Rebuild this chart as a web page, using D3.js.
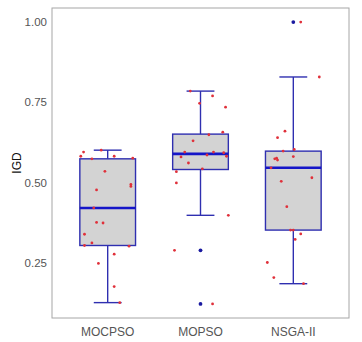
<!DOCTYPE html>
<html><head><meta charset="utf-8">
<script src="https://cdn.jsdelivr.net/npm/d3@7"></script>
<style>body{margin:0;background:#fff;font-family:"Liberation Sans",Arial,sans-serif;}</style>
</head><body><svg id="c" width="362" height="342"></svg>
<script>
const categories = ["MOCPSO", "MOPSO", "NSGA-II"];
const mocpso = [0.595,0.582,0.601,0.574,0.582,0.576,0.535,0.494,0.488,0.477,0.421,0.376,0.374,0.339,0.304,0.312,0.302,0.277,0.248,0.176,0.126];
const mocpsoJitter = [-0.26,-0.29,-0.07,-0.17,0.07,0.27,-0.03,0.25,0.25,-0.12,-0.15,-0.12,-0.05,-0.25,-0.25,-0.17,0.23,0.07,-0.10,0.07,0.13];
const mopso = [0.785,0.770,0.747,0.735,0.657,0.649,0.630,0.595,0.580,0.586,0.595,0.593,0.582,0.561,0.543,0.534,0.499,0.398,0.289,0.122];
const mopsoJitter = [-0.11,0.13,-0.01,0.27,0.24,0.09,-0.08,-0.17,-0.21,0.07,0.14,0.25,0.28,-0.13,0.02,-0.26,-0.26,0.30,-0.28,0.13];
const nsga = [1.0,0.829,0.660,0.640,0.598,0.603,0.581,0.574,0.576,0.570,0.546,0.515,0.504,0.425,0.352,0.352,0.340,0.323,0.251,0.204,0.185];
const nsgaJitter = [0.08,0.28,-0.09,-0.17,-0.11,0.01,0.00,-0.20,-0.18,-0.17,-0.24,0.20,-0.13,-0.07,-0.03,0.00,0.08,0.02,-0.28,-0.21,0.11];
const yTicks = [0.25, 0.50, 0.75, 1.00];
const yLabel = "IGD";

const groups = [mocpso, mopso, nsga];
const jitters = [mocpsoJitter, mopsoJitter, nsgaJitter];

const L = 52, R = 349, T = 8, B = 318;
const svg = d3.select("#c");

const all = groups.flat();
const lo = d3.min(all), hi = d3.max(all), pad = (hi - lo) * 0.05;
const y = d3.scaleLinear().domain([lo - pad, hi + pad]).range([B, T]);
const xi = d3.scaleLinear().domain([0.4, 3.6]).range([L, R]);
const unit = xi(1) - xi(0);

svg.append("g").selectAll("text").data(yTicks).join("text")
  .attr("x", L - 5).attr("y", d => y(d)).attr("dy", "0.35em")
  .attr("text-anchor", "end").attr("font-size", 11.5).attr("fill", "#555")
  .text(d => d3.format(".2f")(d));

svg.append("g").selectAll("text").data(categories).join("text")
  .attr("x", (d, i) => xi(i + 1)).attr("y", B + 14).attr("dy", "0.35em")
  .attr("text-anchor", "middle").attr("font-size", 12).attr("fill", "#555")
  .text(d => d);

svg.append("text").attr("transform", `translate(20.5,${(T + B) / 2}) rotate(-90)`)
  .attr("text-anchor", "middle").attr("font-size", 12).attr("fill", "#111").text(yLabel);

const boxColor = "#2f2fb0";
groups.forEach((vals, i) => {
  const s = vals.slice().sort(d3.ascending);
  const q1 = d3.quantile(s, 0.25), med = d3.quantile(s, 0.5), q3 = d3.quantile(s, 0.75);
  const iqr = q3 - q1;
  const wLo = d3.min(s.filter(v => v >= q1 - 1.5 * iqr));
  const wHi = d3.max(s.filter(v => v <= q3 + 1.5 * iqr));
  const outs = s.filter(v => v < wLo || v > wHi);
  const cx = xi(i + 1), bw = 0.6 * unit, cw = 0.3 * unit;
  const g = svg.append("g");
  g.append("line").attr("x1", cx).attr("x2", cx).attr("y1", y(q3)).attr("y2", y(wHi)).attr("stroke", boxColor).attr("stroke-width", 1.4);
  g.append("line").attr("x1", cx).attr("x2", cx).attr("y1", y(q1)).attr("y2", y(wLo)).attr("stroke", boxColor).attr("stroke-width", 1.4);
  g.append("line").attr("x1", cx - cw / 2).attr("x2", cx + cw / 2).attr("y1", y(wHi)).attr("y2", y(wHi)).attr("stroke", boxColor).attr("stroke-width", 1.4);
  g.append("line").attr("x1", cx - cw / 2).attr("x2", cx + cw / 2).attr("y1", y(wLo)).attr("y2", y(wLo)).attr("stroke", boxColor).attr("stroke-width", 1.4);
  g.append("rect").attr("x", cx - bw / 2).attr("width", bw).attr("y", y(q3)).attr("height", y(q1) - y(q3))
    .attr("fill", "#d3d3d3").attr("stroke", boxColor).attr("stroke-width", 1.4);
  g.append("line").attr("x1", cx - bw / 2).attr("x2", cx + bw / 2).attr("y1", y(med)).attr("y2", y(med)).attr("stroke", "#1515c8").attr("stroke-width", 2.6);
  g.selectAll("circle.o").data(outs).join("circle").attr("class", "o")
    .attr("cx", cx).attr("cy", d => y(d)).attr("r", 1.9).attr("fill", "#1a1aa0");
  g.selectAll("circle.j").data(vals).join("circle").attr("class", "j")
    .attr("cx", (d, k) => xi(i + 1 + jitters[i][k])).attr("cy", d => y(d)).attr("r", 1.4).attr("fill", "#e0303a");
});

svg.append("rect").attr("x", L).attr("y", T).attr("width", R - L).attr("height", B - T)
  .attr("fill", "none").attr("stroke", "#a6a6a6").attr("stroke-width", 1);
</script></body></html>
